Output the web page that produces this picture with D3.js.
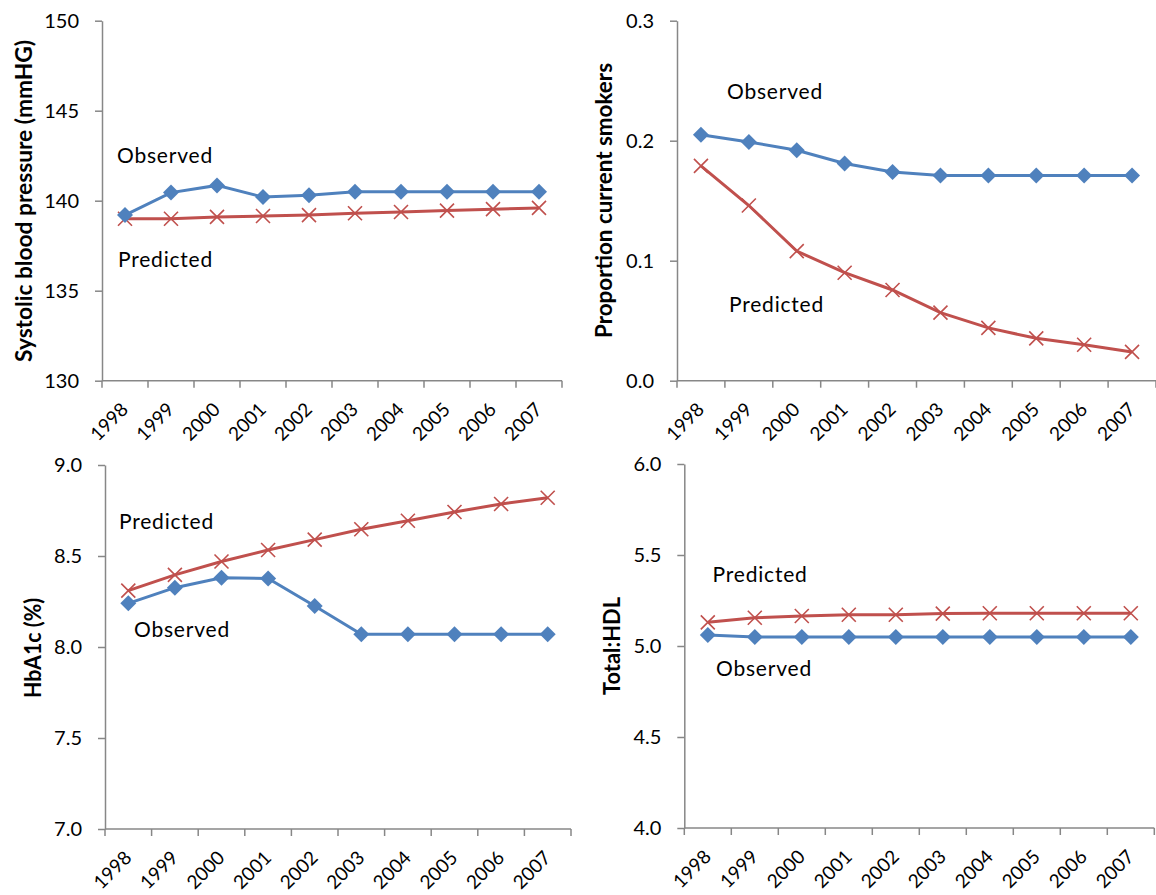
<!DOCTYPE html>
<html>
<head>
<meta charset="utf-8">
<script src="https://cdn.jsdelivr.net/npm/d3@7"></script>
<style>
  html, body { margin: 0; padding: 0; background: #fff; }
  svg { display: block; font-family: Lato, "Open Sans", sans-serif; }
</style>
</head>
<body>
<svg id="chart" width="1156" height="895"></svg>
<script>
// ---- data ----
const years = ["1998","1999","2000","2001","2002","2003","2004","2005","2006","2007"];

const sbpObserved  = [139.2, 140.45, 140.85, 140.2, 140.3, 140.5, 140.5, 140.5, 140.5, 140.5];
const sbpPredicted = [139.0, 139.0, 139.1, 139.15, 139.2, 139.3, 139.37, 139.45, 139.53, 139.6];
const sbpTicks = [130, 135, 140, 145, 150];

const smokObserved  = [0.205, 0.199, 0.192, 0.181, 0.174, 0.171, 0.171, 0.171, 0.171, 0.171];
const smokPredicted = [0.179, 0.146, 0.108, 0.090, 0.0756, 0.0567, 0.044, 0.0353, 0.030, 0.024];
const smokTicks = [0.0, 0.1, 0.2, 0.3];

const hbaObserved  = [8.24, 8.326, 8.38, 8.377, 8.225, 8.07, 8.07, 8.07, 8.07, 8.07];
const hbaPredicted = [8.31, 8.396, 8.47, 8.533, 8.59, 8.647, 8.694, 8.742, 8.786, 8.82];
const hbaTicks = [7.0, 7.5, 8.0, 8.5, 9.0];

const hdlObserved  = [5.06, 5.05, 5.05, 5.05, 5.05, 5.05, 5.05, 5.05, 5.05, 5.05];
const hdlPredicted = [5.13, 5.155, 5.165, 5.172, 5.172, 5.178, 5.18, 5.18, 5.18, 5.18];
const hdlTicks = [4.0, 4.5, 5.0, 5.5, 6.0];

// ---- layout ----
const BLUE = "#4F81BD", RED = "#C0504D", AXIS = "#878787";

const panels = [
  { title: "Systolic blood pressure (mmHG)", obs: sbpObserved, pred: sbpPredicted, ticks: sbpTicks, fmt: d3.format("d"),
    x0: 102, x1: 562, yTop: 20.7, yBot: 380.7, labX: 24, labY: 201, labLen: 322,
    obsLab: [117, 162.7], predLab: [118, 266.7] },
  { title: "Proportion current smokers", obs: smokObserved, pred: smokPredicted, ticks: smokTicks, fmt: d3.format(".1f"),
    x0: 677, x1: 1156, yTop: 20.7, yBot: 380.7, labX: 604, labY: 200.5, labLen: 275,
    obsLab: [727, 99.3], predLab: [729, 312.3] },
  { title: "HbA1c (%)", obs: hbaObserved, pred: hbaPredicted, ticks: hbaTicks, fmt: d3.format(".1f"),
    x0: 105, x1: 571, yTop: 465, yBot: 829, labX: 33, labY: 648, labLen: 100,
    obsLab: [134, 636.7], predLab: [119, 529.3] },
  { title: "Total:HDL", obs: hdlObserved, pred: hdlPredicted, ticks: hdlTicks, fmt: d3.format(".1f"),
    x0: 684.3, x1: 1154.3, yTop: 464, yBot: 828, labX: 612.6, labY: 646, labLen: 98,
    obsLab: [716, 675.7], predLab: [712.6, 581.7] }
];

const svg = d3.select("#chart");

panels.forEach(p => {
  const x = d3.scaleBand().domain(years).range([p.x0, p.x1]);
  const y = d3.scaleLinear().domain([p.ticks[0], p.ticks[p.ticks.length - 1]]).range([p.yBot, p.yTop]);
  const g = svg.append("g");

  // y axis
  const ya = g.append("g").attr("transform", `translate(${p.x0},0)`)
    .call(d3.axisLeft(y).tickValues(p.ticks).tickFormat(p.fmt).tickSizeInner(7).tickSizeOuter(0).tickPadding(16));
  ya.select(".domain").attr("stroke", AXIS).attr("stroke-width", 1.5);
  ya.selectAll(".tick line").attr("stroke", AXIS).attr("stroke-width", 1.5);
  ya.selectAll(".tick text").attr("font-size", 20).attr("fill", "#000").attr("font-family", "Lato, 'Open Sans', sans-serif");

  // x axis with boundary ticks
  const xa = g.append("g").attr("transform", `translate(0,${p.yBot})`);
  xa.append("line").attr("x1", p.x0).attr("x2", p.x1).attr("y1", 0).attr("y2", 0)
    .attr("stroke", AXIS).attr("stroke-width", 1.5);
  const bounds = years.map(d => x(d)).concat([x(years[years.length - 1]) + x.bandwidth()]);
  xa.selectAll("line.tk").data(bounds).join("line").attr("class", "tk")
    .attr("x1", d => d).attr("x2", d => d).attr("y1", 0).attr("y2", 7)
    .attr("stroke", AXIS).attr("stroke-width", 1.5);
  xa.selectAll("text").data(years).join("text")
    .attr("transform", d => `translate(${x(d) + x.bandwidth() / 2 + 4.4},30) rotate(-45)`)
    .attr("text-anchor", "end")
    .attr("font-size", 19)
    .attr("fill", "#000")
    .text(d => d);

  const cx = d => x(d) + x.bandwidth() / 2;
  const line = d3.line().x((d, i) => cx(years[i])).y(d => y(d));

  // predicted
  g.append("path").datum(p.pred).attr("d", line).attr("fill", "none")
    .attr("stroke", RED).attr("stroke-width", 3);
  g.selectAll("path.xm").data(p.pred).join("path").attr("class", "xm")
    .attr("transform", (d, i) => `translate(${cx(years[i])},${y(d)})`)
    .attr("d", "M-7,-7L7,7M-7,7L7,-7")
    .attr("stroke", RED).attr("stroke-width", 1.6).attr("fill", "none");

  // observed
  g.append("path").datum(p.obs).attr("d", line).attr("fill", "none")
    .attr("stroke", BLUE).attr("stroke-width", 3);
  g.selectAll("path.dm").data(p.obs).join("path").attr("class", "dm")
    .attr("transform", (d, i) => `translate(${cx(years[i])},${y(d)})`)
    .attr("d", "M0,-8L8,0L0,8L-8,0Z")
    .attr("fill", BLUE);

  // series labels
  g.append("text").attr("x", p.obsLab[0]).attr("y", p.obsLab[1]).attr("font-size", 21)
    .attr("letter-spacing", 0.8).attr("fill", "#000").text("Observed");
  g.append("text").attr("x", p.predLab[0]).attr("y", p.predLab[1]).attr("font-size", 21)
    .attr("letter-spacing", 0.8).attr("fill", "#000").text("Predicted");

  // y title
  g.append("text")
    .attr("transform", `translate(${p.labX},${p.labY}) rotate(-90)`)
    .attr("text-anchor", "middle").attr("dy", "0.35em")
    .attr("font-size", 22).attr("font-weight", "bold").attr("fill", "#000")
    .attr("textLength", p.labLen).attr("lengthAdjust", "spacingAndGlyphs")
    .text(p.title);
});
</script>
</body>
</html>
